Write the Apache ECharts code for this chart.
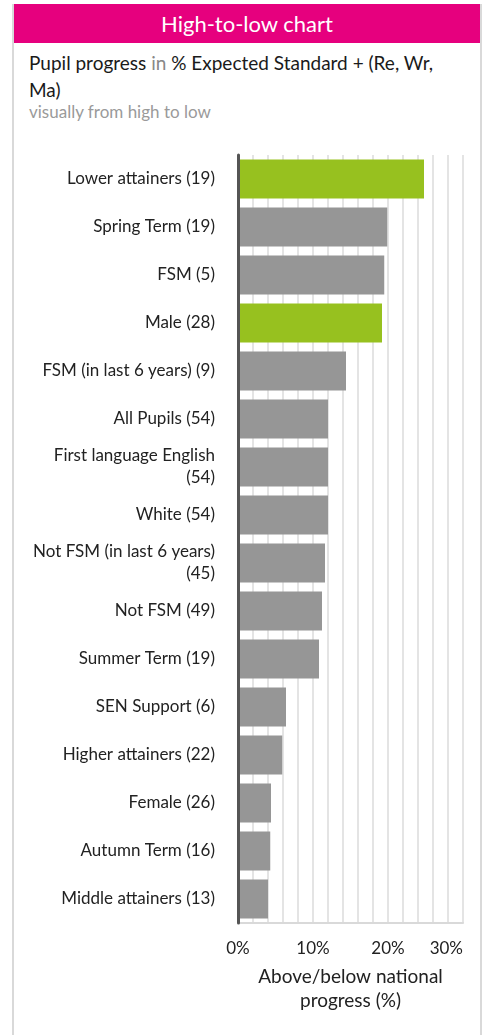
<!DOCTYPE html>
<html>
<head>
<meta charset="utf-8">
<script src="https://cdn.jsdelivr.net/npm/echarts@6/dist/echarts.min.js"></script>
<style>
  html, body { margin: 0; padding: 0; background: #fff; }
  body { width: 485px; height: 1035px; position: relative; overflow: hidden; font-family: Lato, "Noto Sans", sans-serif; }
  .card { position: absolute; left: 12px; top: 4px; width: 466px; height: 1040px; border-left: 2px solid #d9d9d9; border-right: 2px solid #d9d9d9; }
  .head { height: 39px; background: #e6007e; color: #fff; font-size: 22px; line-height: 39px; text-align: center; }
  .sub { position: absolute; left: 15px; top: 45px; font-size: 19px; line-height: 27px; color: #1a1a1a; white-space: nowrap; }
  .sub .grey { color: #888; }
  .note { position: absolute; left: 15px; top: 98px; font-size: 17px; line-height: 20px; color: #9a9a9a; }
  #chart { position: absolute; left: 0; top: 0; width: 485px; height: 1035px; }
</style>
</head>
<body>
<div class="card">
  <div class="head">High-to-low chart</div>
  <div class="sub">Pupil progress <span class="grey">in</span> % Expected Standard + (Re, Wr,<br>Ma)</div>
  <div class="note">visually from high to low</div>
</div>
<div id="chart"></div>
<script>
// groups, top to bottom
const groups = [
  'Lower attainers (19)', 'Spring Term (19)', 'FSM (5)', 'Male (28)',
  'FSM (in last 6 years) (9)', 'All Pupils (54)', 'First language English (54)',
  'White (54)', 'Not FSM (in last 6 years) (45)', 'Not FSM (49)',
  'Summer Term (19)', 'SEN Support (6)', 'Higher attainers (22)',
  'Female (26)', 'Autumn Term (16)', 'Middle attainers (13)'
]
// % above national progress
const progress = [24.8, 19.9, 19.5, 19.2, 14.4, 12.0, 12.0, 12.0, 11.6, 11.2, 10.8, 6.4, 5.9, 4.4, 4.3, 4.0]
const highlighted = ['Lower attainers (19)', 'Male (28)']
const xTicks = [0, 10, 20, 30]

const labelSize = 17
const ctx = document.createElement('canvas').getContext('2d')
ctx.font = labelSize + 'px Lato'
// long labels go on two lines, count in brackets below
function wrapLabel(s) {
  if (ctx.measureText(s).width <= 185) return s
  const i = s.lastIndexOf(' (')
  return s.slice(0, i) + '\n' + s.slice(i + 1)
}

const chart = echarts.init(document.getElementById('chart'))
chart.setOption({
  animation: false,
  textStyle: { fontFamily: 'Lato' },
  grid: { left: 238, right: 22, top: 155, bottom: 112 },
  xAxis: {
    type: 'value',
    min: xTicks[0],
    max: xTicks[xTicks.length - 1],
    interval: xTicks[1] - xTicks[0],
    minorTick: { show: false, splitNumber: 5 },
    splitLine: { lineStyle: { color: '#e4e4e4', width: 2 } },
    minorSplitLine: { show: true, lineStyle: { color: '#e4e4e4', width: 2 } },
    axisLine: { show: true, lineStyle: { color: '#d9d9d9', width: 2 } },
    axisTick: { show: false },
    axisLabel: { formatter: '{value}%', fontSize: 17, color: '#222', margin: 17, alignMaxLabel: 'right' },
    name: 'Above/below national\nprogress (%)',
    nameLocation: 'middle',
    nameGap: 42,
    nameTextStyle: { fontSize: 19, color: '#222', lineHeight: 24 }
  },
  yAxis: {
    type: 'category',
    inverse: true,
    data: groups,
    z: 5,
    axisLine: { lineStyle: { color: '#555', width: 3 } },
    axisTick: { length: 15, lineStyle: { color: '#d9d9d9', width: 2 } },
    axisLabel: { fontSize: labelSize, color: '#222', margin: 23, lineHeight: 22, formatter: wrapLabel }
  },
  series: [{
    type: 'bar',
    barWidth: 39,
    data: progress.map((v, i) => ({
      value: v,
      itemStyle: { color: highlighted.includes(groups[i]) ? '#97c11f' : '#969696' }
    }))
  }]
})
</script>
</body>
</html>
